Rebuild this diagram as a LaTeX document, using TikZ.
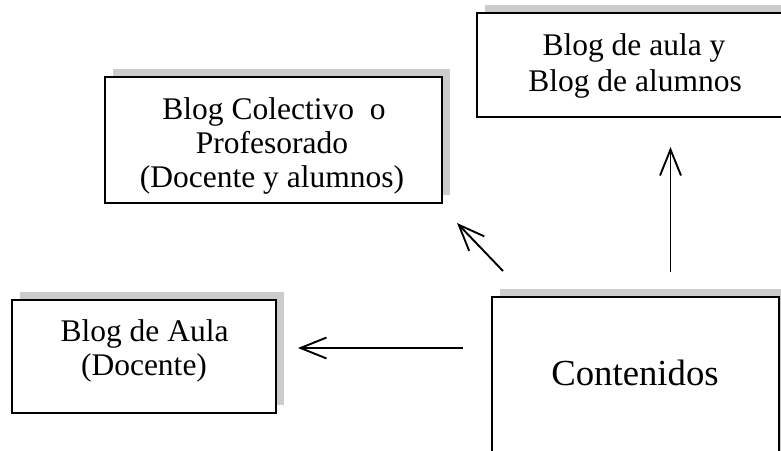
\documentclass[tikz,border=0pt]{standalone}
\usepackage{fontspec}
\setmainfont{Liberation Serif}
\usetikzlibrary{arrows.meta}
\tikzset{
  box/.style={draw=black, line width=1.9pt, fill=white, rectangle, inner sep=0pt},
  txt/.style={anchor=base, inner sep=0pt, font=\fontsize{31.5}{36}\selectfont},
  bigtxt/.style={anchor=base, inner sep=0pt, font=\fontsize{36.75}{42}\selectfont},
  shade/.style={fill=black!20, draw=none},
  conn/.style={line width=1.9pt, -{Straight Barb[length=26pt,width=21pt,line width=1.9pt]}},
}
\begin{document}
\begin{tikzpicture}[x=1pt,y=-1pt]
\useasboundingbox (0,0) rectangle (781,450);
% shadows
\fill[shade] (113,69) rectangle (450,195);
\fill[shade] (485,5) rectangle (798,109);
\fill[shade] (20,292) rectangle (284,405);
\fill[shade] (500,289) rectangle (787,462);
% boxes
\node[box, minimum width=337pt, minimum height=126pt] (colect) at (273.5,140) {};
\node[box, minimum width=313pt, minimum height=104pt] (alum) at (633.5,65) {};
\node[box, minimum width=264pt, minimum height=113pt] (aula) at (144,356.5) {};
\node[box, minimum width=287pt, minimum height=173pt] (cont) at (635.5,383.5) {};
% texts
\node[txt] (colect1) at (274,119) {Blog Colectivo\ \ o};
\node[txt] (colect2) at (272,153) {Profesorado};
\node[txt] (colect3) at (272,187) {(Docente y alumnos)};
\node[txt] (alum1) at (634,55) {Blog de aula y};
\node[txt] (alum2) at (635,91.5) {Blog de alumnos};
\node[txt] (aula1) at (144.5,341) {Blog de Aula};
\node[txt] (aula2) at (144,375) {(Docente)};
\node[bigtxt] (conttext) at (635,385) {Contenidos};
% arrow end points
\coordinate (h1) at (463,348);
\coordinate (h2) at (298,348);
\coordinate (d1) at (503,271);
\coordinate (d2) at (457,223);
\coordinate (v1) at (670.5,272);
\coordinate (v2) at (670.5,147);
\draw[conn] (h1) -- (h2);
\draw[conn] (d1) -- (d2);
\draw[conn] (v1) -- (v2);
\end{tikzpicture}
\end{document}
